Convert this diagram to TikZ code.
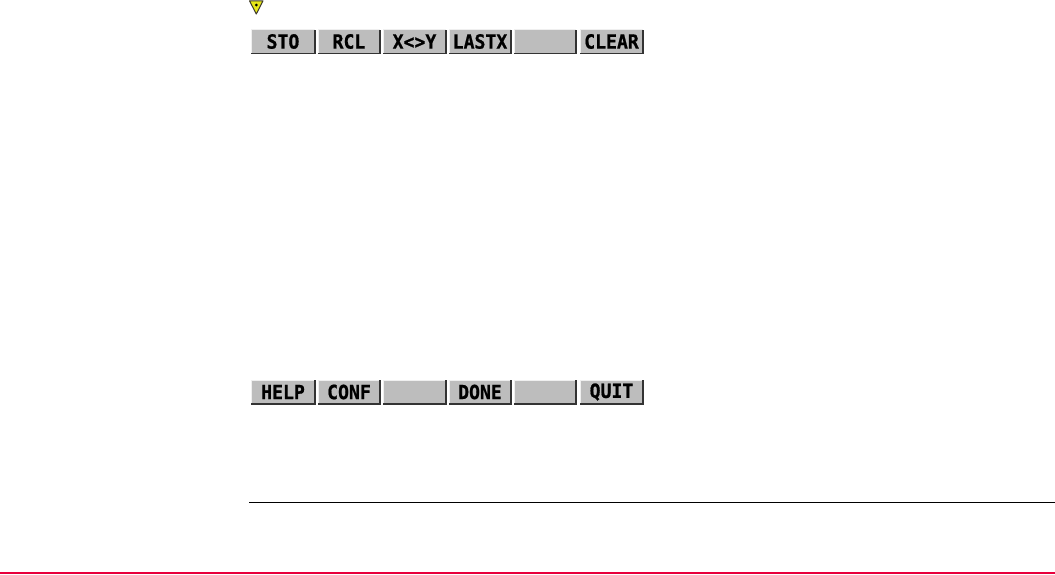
\documentclass[tikz,border=0pt]{standalone}
\usepackage{fontspec}
\setmonofont[BoldFeatures={FakeBold=0.8,FakeStretch=0.93}]{DejaVu Sans Mono}
\definecolor{btn}{HTML}{BDBDBD}
\definecolor{btnlight}{HTML}{EFEFEF}
\definecolor{btndark}{HTML}{333333}
\definecolor{rulered}{HTML}{E8003C}
\definecolor{warn}{HTML}{E6E619}
\tikzset{
  softkey/.style={fill=btn,draw=none,minimum height=24pt,inner sep=0pt,outer sep=0pt,
    font=\fontsize{19.5}{19.5}\selectfont\ttfamily\bfseries,text=black},
}
\newcommand{\softkey}[5]{% name, x1, x2, y-top, text
  \node[softkey,minimum width=#3pt-#2pt,anchor=north west] (#1) at (#2,#4) {#5};
  \draw[btnlight,line width=1pt] (#1.south west) -- (#1.north west) -- (#1.north east);
  \draw[btndark,line width=1.6pt] (#1.south west) -- (#1.south east) -- (#1.north east);
}
\begin{document}
\begin{tikzpicture}[x=1pt,y=-1pt]
\useasboundingbox (0,0) rectangle (1055,574);
\softkey{sto}{251}{315}{29.5}{STO}
\softkey{rcl}{318}{380}{29.5}{RCL}
\softkey{xy}{383}{446}{29.5}{X<>Y}
\softkey{lastx}{449}{511}{29.5}{LASTX}
\softkey{blanka}{514}{576}{29.5}{}
\softkey{clear}{580}{643}{29.5}{CLEAR}
\softkey{help}{251}{315}{380}{HELP}
\softkey{conf}{318}{380}{380}{CONF}
\softkey{blankb}{383}{446}{380}{}
\softkey{done}{449}{511}{380}{DONE}
\softkey{blankc}{514}{576}{380}{}
\softkey{quit}{580}{643}{380}{QUIT}
% warning symbol
\filldraw[fill=warn,draw=black!75!olive,line width=1pt,line join=round] (249.5,0.8) -- (263,0.8) -- (256.3,14) -- cycle;
\fill[black] (256.3,5) circle (1.5);
% rules
\draw[black,line width=1pt] (249,502.5) -- (1055,502.5);
\draw[rulered,line width=2pt] (0,572.8) -- (1055,572.8);
\end{tikzpicture}
\end{document}
